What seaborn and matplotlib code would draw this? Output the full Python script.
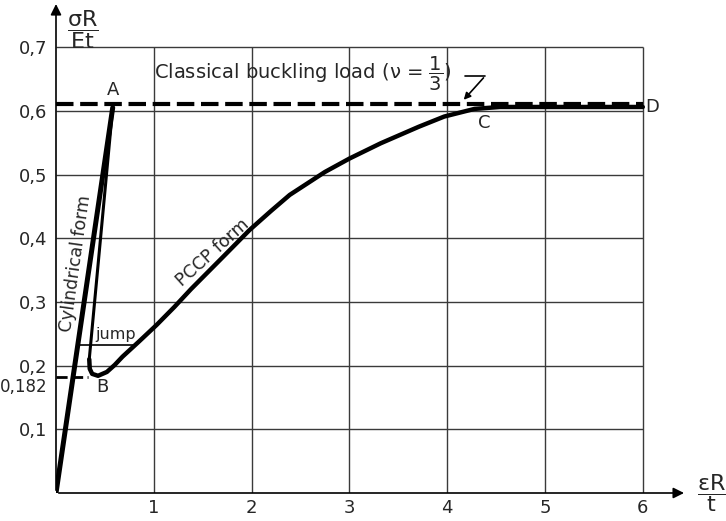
import matplotlib
matplotlib.use("Agg")
import matplotlib.pyplot as plt
import matplotlib.transforms as mtransforms
import seaborn as sns

# cylindrical (pre-buckling) branch O -> A
cyl_x = [0.0, 0.58]
cyl_y = [0.0, 0.605]

# drop after buckling A -> B
drop_x = [0.58, 0.34]
drop_y = [0.605, 0.21]

# PCCP branch B -> C -> D
pccp_x = [0.34, 0.345, 0.37, 0.43, 0.52, 0.60, 0.68, 0.85, 1.03, 1.21, 1.38, 1.71,
          1.98, 2.20, 2.39, 2.75, 3.00, 3.32, 3.71, 3.97, 4.28, 4.54, 5.00, 6.00]
pccp_y = [0.21, 0.195, 0.187, 0.184, 0.19, 0.201, 0.214, 0.238, 0.264, 0.292, 0.32, 0.371,
          0.413, 0.443, 0.468, 0.504, 0.525, 0.549, 0.575, 0.591, 0.603, 0.606, 0.606, 0.606]

classical_load = 0.61
b_load = 0.182

x_ticks = [1, 2, 3, 4, 5, 6]
y_ticks = [0.1, 0.182, 0.2, 0.3, 0.4, 0.5, 0.6, 0.7]
y_labels = ["0,1", "0,182", "0,2", "0,3", "0,4", "0,5", "0,6", "0,7"]
grid_y = [0.1, 0.2, 0.3, 0.4, 0.5, 0.6, 0.7]

sns.set_style("white")
plt.rcParams["font.family"] = ["DejaVu Sans"]
plt.rcParams["mathtext.fontset"] = "dejavusans"

fig = plt.figure(figsize=(7.26, 5.21), dpi=100)
ax = fig.add_axes([56 / 726, 28 / 521, 670 / 726, 493 / 521])
ax.set_xlim(0, 670 / 97.8)
ax.set_ylim(0, 493 / 637)
for s in ax.spines.values():
    s.set_visible(False)

# grid (stops at x=6 and y=0.7 like the drawing)
ax.hlines(grid_y, 0, 6, color="#3a3a3a", lw=1.0, zorder=1)
ax.vlines(x_ticks, 0, 0.7, color="#3a3a3a", lw=1.0, zorder=1)

# dashed reference loads
sns.lineplot(x=[0, 6], y=[classical_load, classical_load], ax=ax, color="k",
             lw=3, linestyle=(0, (4.2, 1.6)), zorder=3)
sns.lineplot(x=[0, 0.33], y=[b_load, b_load], ax=ax, color="k",
             lw=2, linestyle=(0, (4, 1.6)), zorder=3)

# curves
sns.lineplot(x=cyl_x, y=cyl_y, ax=ax, sort=False, color="k", lw=3.6, zorder=4)
sns.lineplot(x=drop_x, y=drop_y, ax=ax, sort=False, color="k", lw=2.2, zorder=4)
sns.lineplot(x=pccp_x, y=pccp_y, ax=ax, sort=False, color="k", lw=3.2, zorder=4)

# axes with arrows
ax.annotate("", xy=(6.45, 0), xytext=(0, 0),
            arrowprops=dict(arrowstyle="-|>", color="k", lw=1.2, mutation_scale=16))
ax.annotate("", xy=(0, 0.772), xytext=(0, 0),
            arrowprops=dict(arrowstyle="-|>", color="k", lw=1.2, mutation_scale=16))

ax.set_xticks(x_ticks)
ax.set_xticklabels([str(v) for v in x_ticks])
ax.set_yticks(y_ticks)
ax.set_yticklabels(y_labels)
ax.tick_params(length=0, labelsize=13, pad=6)
ax.tick_params(axis="x", pad=4)
# 0,182 is written smaller and a little lower in the drawing
lab182 = ax.get_yticklabels()[1]
lab182.set_fontsize(12)
lab182.set_transform(lab182.get_transform() +
                     mtransforms.ScaledTranslation(0, -8 / 100, fig.dpi_scale_trans))

ax.text(6.71, 0.0, r"$\dfrac{\mathrm{\epsilon R}}{\mathrm{t}}$", fontsize=16,
        ha="center", va="center", clip_on=False)
ax.text(0.27, 0.727, r"$\dfrac{\mathrm{\sigma R}}{\mathrm{Et}}$", fontsize=16,
        ha="center", va="center")

# labels on curves
ax.text(0.58, 0.633, "A", fontsize=13, ha="center", va="center")
ax.text(0.47, 0.166, "B", fontsize=13, ha="center", va="center")
ax.text(4.38, 0.581, "C", fontsize=13, ha="center", va="center")
ax.text(6.1, 0.606, "D", fontsize=13, ha="center", va="center")

ax.text(0.2, 0.36, "Cylindrical form", fontsize=12.5, rotation=82,
        ha="center", va="center")
ax.text(1.6, 0.378, "PCCP form", fontsize=12.5, rotation=42,
        ha="center", va="center", rotation_mode="anchor")
ax.text(0.61, 0.249, "jump", fontsize=11.5, ha="center", va="center")
ax.plot([0.25, 0.80], [0.233, 0.233], color="k", lw=1.2)

ax.text(1.0, 0.658, r"Classical buckling load (ν = $\dfrac{1}{3}$)",
        fontsize=14, ha="left", va="center")
ax.plot([4.18, 4.39], [0.655, 0.655], color="k", lw=1.2)
ax.annotate("", xy=(4.15, 0.614), xytext=(4.39, 0.655),
            arrowprops=dict(arrowstyle="-|>", color="k", lw=1.2, mutation_scale=10))

fig.savefig("out.png", dpi=100)
